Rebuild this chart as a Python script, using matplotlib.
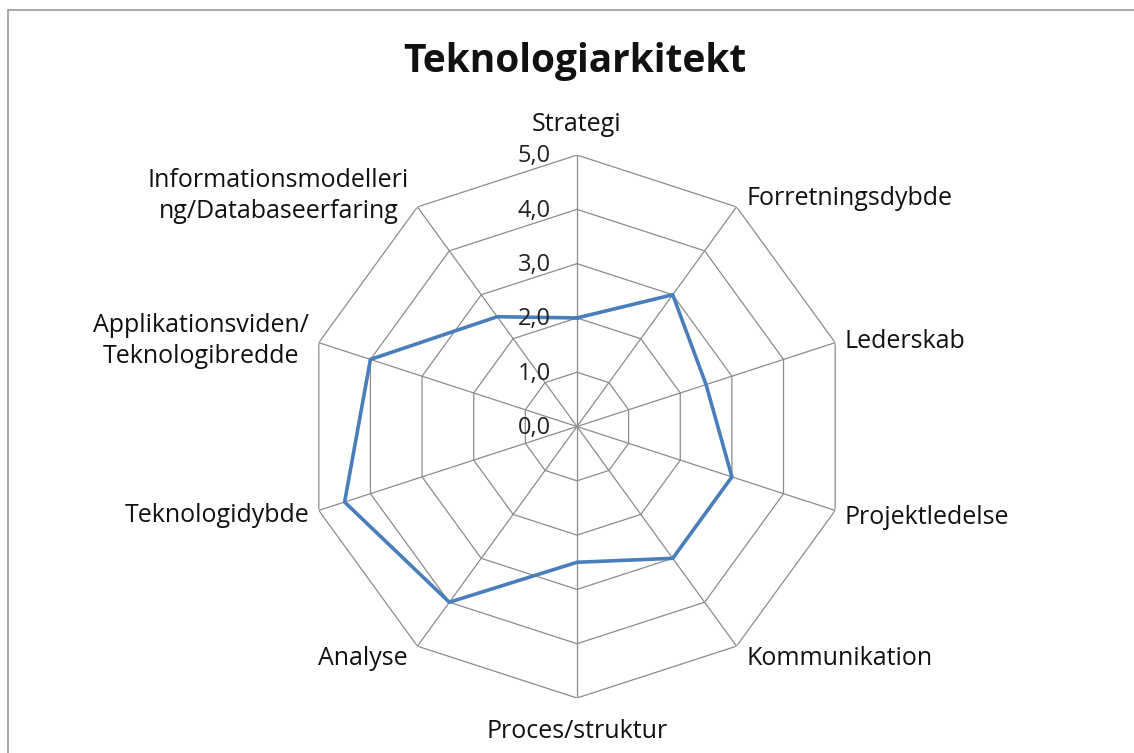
import numpy as np
import matplotlib
matplotlib.use("Agg")
import matplotlib.pyplot as plt
from matplotlib.patches import Rectangle

plt.rcParams['font.family'] = ['Open Sans', 'DejaVu Sans']

# 数据
categories = ["Strategi", "Forretningsdybde", "Lederskab", "Projektledelse",
              "Kommunikation", "Proces/struktur", "Analyse", "Teknologidybde",
              "Applikationsviden/\nTeknologibredde",
              "Informationsmodelleri\nng/Databaseerfaring"]
values = [2.0, 3.0, 2.5, 3.0, 3.0, 2.5, 4.0, 4.5, 4.0, 2.5]
levels = [0, 1, 2, 3, 4, 5]
level_labels = ["0,0", "1,0", "2,0", "3,0", "4,0", "5,0"]

n = len(categories)
angles = np.linspace(0, 2 * np.pi, n, endpoint=False)
ang_closed = np.append(angles, angles[0])

fig = plt.figure(figsize=(11.34, 7.53), dpi=100)
ax = fig.add_axes([0.2694, 0.0730, 0.4788, 0.7211], polar=True)
ax.set_theta_offset(np.pi / 2)
ax.set_theta_direction(-1)
ax.set_ylim(0, 5)
ax.grid(False)
ax.spines['polar'].set_visible(False)
ax.set_xticks([])
ax.set_yticks([])

grid_col = "#8c8c8c"
# 网格多边形
for lv in levels[1:]:
    ax.plot(ang_closed, [lv] * (n + 1), color=grid_col, lw=0.9, zorder=1)
# 辐射线
for a in angles:
    ax.plot([a, a], [0, 5], color=grid_col, lw=0.9, zorder=1)

# 数据线
ax.plot(ang_closed, values + values[:1], color="#4a7ebb", lw=2.6, zorder=3)

# 刻度标签
for lv, lab in zip(levels, level_labels):
    ax.annotate(lab, xy=(0, lv), xytext=(-19, -1), textcoords="offset points",
                ha="right", va="center", fontsize=17, color="#222222")

# 类别标签 (偏移量单位: pt)
offsets = {0: (0, 17), 36: (7, 6), 72: (7, 1), 108: (7, -5), 144: (7, -9),
           180: (0, -15), 216: (-7, -9), 252: (-7, -4), 288: (-7, 1),
           324: (-6, 8)}
for a, lab in zip(angles, categories):
    deg = int(round(np.degrees(a)))
    if deg == 0:
        ha, va = "center", "baseline"
    elif deg == 180:
        ha, va = "center", "top"
    elif deg < 180:
        ha, va = "left", "center"
    else:
        ha, va = "right", "center"
    ax.annotate(lab, xy=(a, 5), xytext=offsets[deg], textcoords="offset points",
                ha=ha, va=va, fontsize=18, multialignment="center",
                linespacing=1.3, color="#111111", annotation_clip=False)

fig.text(0.507, 0.918, "Teknologiarkitekt", ha="center", va="center",
         fontsize=28, fontweight="bold", color="#111111")

# 外框
fig.patches.append(Rectangle((8 / 1134, -0.1), 1.2, 1.1 - 10 / 753,
                             transform=fig.transFigure, fill=False,
                             edgecolor="#999999", lw=1.2))

fig.savefig("out.png", dpi=100, facecolor="white")
